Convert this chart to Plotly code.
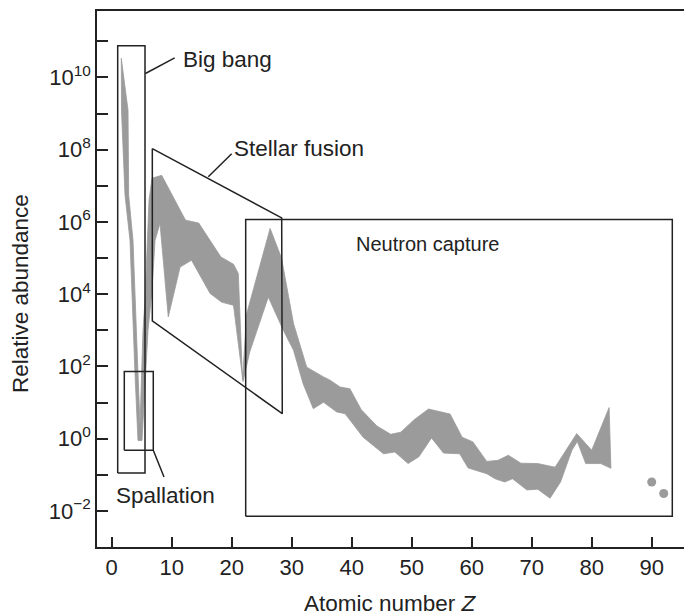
import plotly.graph_objects as go

# ---- data (Z, log10 abundance) ----
upper_z = [1.6, 2.72, 2.83, 3.55, 4.38, 4.72, 5.22, 5.55, 6.22, 6.72, 8.33, 12.3, 14.5, 18.2, 20.3, 21.1,
           21.8, 22.5, 26.4, 28.3, 30.3, 32.5, 35.3, 36.4, 38.05, 39.7, 41.6, 44.2, 46.5, 48.2, 50.3,
           52.8, 56.4, 58.4, 60.2, 62.5, 64.4, 66.1, 68.2, 71.0, 73.9, 77.5, 80.0, 82.9]
upper_exp = [10.53, 9.09, 6.74, 5.49, 1.82, 0.37, 3.0, 3.83, 6.6, 7.21, 7.29, 6.05, 5.97, 5.03, 4.83, 4.57,
             1.62, 3.46, 5.82, 5.0, 3.19, 1.98, 1.71, 1.62, 1.43, 1.38, 0.8, 0.35, 0.12, 0.18, 0.51,
             0.82, 0.68, 0.04, -0.09, -0.63, -0.6, -0.46, -0.68, -0.69, -0.79, 0.14, -0.32, 0.86]
lower_z = [1.6, 1.63, 2.22, 3.05, 3.88, 4.38, 5.05, 6.05, 6.72, 7.22, 8.05, 9.43, 11.4, 13.3, 16.4, 18.3,
           20.3, 21.9, 23.0, 26.1, 28.6, 30.3, 31.9, 33.6, 35.3, 37.5, 38.9, 41.9, 45.3, 47.2, 49.4,
           51.2, 53.3, 55.3, 58.0, 59.4, 62.5, 63.9, 65.5, 66.8, 69.2, 71.0, 73.05, 74.8, 76.7, 77.6,
           79.0, 81.5, 83.2]
lower_exp = [10.53, 9.09, 6.74, 5.49, 1.81, -0.05, -0.05, 3.0, 4.11, 5.49, 5.96, 3.37, 4.75, 4.94, 4.02, 3.78,
             3.69, 1.58, 2.4, 3.92, 3.0, 2.45, 1.52, 0.83, 1.01, 0.74, 0.69, 0.04, -0.42, -0.37, -0.69,
             -0.5, 0.02, -0.4, -0.42, -0.81, -0.97, -1.11, -1.2, -1.11, -1.42, -1.4, -1.65, -1.2, -0.32, -0.08,
             -0.69, -0.69, -0.82]
dot_z = [90, 92]
dot_exp = [-1.2, -1.52]

x_ticks = [0, 10, 20, 30, 40, 50, 60, 70, 80, 90]
y_tick_exps = list(range(-2, 12))
y_label_exps = [-2, 0, 2, 4, 6, 8, 10]

# region boxes (Z, log10 abundance)
bigbang_box = dict(z=[1.0, 5.55], e=[-0.95, 10.88])
spall_box = dict(z=[2.1, 6.93], e=[-0.32, 1.86])
neutron_box = dict(z=[22.33, 93.43], e=[-2.15, 6.07])
stellar_z = [6.77, 28.33, 28.43, 6.77, 6.77]
stellar_e = [8.03, 6.11, 0.69, 3.26, 8.03]

FONT = "Liberation Sans, Arial, Helvetica, sans-serif"
INK = "#222222"
GRAY = "#9b9b9b"
TXT = 22.5

fig = go.Figure()

# band
bz = upper_z + lower_z[::-1]
be = upper_exp + lower_exp[::-1]
fig.add_trace(go.Scatter(x=bz, y=[10 ** v for v in be], mode="lines", fill="toself",
                         fillcolor=GRAY, line=dict(color=GRAY, width=0.8),
                         hoverinfo="skip", showlegend=False))
fig.add_trace(go.Scatter(x=dot_z, y=[10 ** v for v in dot_exp], mode="markers",
                         marker=dict(color=GRAY, size=9), showlegend=False))


def box(z, e):
    xs = [z[0], z[1], z[1], z[0], z[0]]
    ys = [e[0], e[0], e[1], e[1], e[0]]
    fig.add_trace(go.Scatter(x=xs, y=[10 ** v for v in ys], mode="lines",
                             line=dict(color=INK, width=1.5), hoverinfo="skip", showlegend=False))


def seg(z, e):
    fig.add_trace(go.Scatter(x=z, y=[10 ** v for v in e], mode="lines",
                             line=dict(color=INK, width=1.5), hoverinfo="skip", showlegend=False))


box(**bigbang_box)
box(**spall_box)
box(**neutron_box)
seg(stellar_z, stellar_e)
# leader lines
seg([5.62, 10.5], [10.11, 10.54])
seg([16.1, 20.0], [7.25, 7.89])
seg([6.93, 8.72], [-0.32, -1.06])

labels = [
    ("Big bang", 11.5, 10.50, "left", TXT),
    ("Stellar fusion", 20.1, 8.02, "left", TXT),
    ("Spallation", 0.4, -1.57, "left", TXT),
    ("Neutron capture", 52.7, 5.38, "center", 20),
]
for txt, z, e, anc, sz in labels:
    fig.add_annotation(x=z, y=e, xref="x", yref="y", text=txt, showarrow=False,
                       xanchor=anc, yanchor="middle", font=dict(size=sz, color=INK, family=FONT))

fig.add_annotation(x=-0.131, y=0.472, xref="paper", yref="paper", text="Relative abundance",
                   textangle=-90, showarrow=False, xanchor="center", yanchor="middle",
                   font=dict(size=TXT, color=INK, family=FONT))
fig.add_annotation(x=0.5, y=-0.105, xref="paper", yref="paper", text="Atomic number <i>Z</i>",
                   showarrow=False, xanchor="center", yanchor="middle",
                   font=dict(size=TXT, color=INK, family=FONT))

ytext = [("10<sup>%s</sup>" % (str(k).replace("-", "\u2212")) if k in y_label_exps else "")
         for k in y_tick_exps]

fig.update_layout(
    width=684, height=607,
    margin=dict(l=89, r=8, t=3, b=68, autoexpand=False),
    paper_bgcolor="white", plot_bgcolor="white",
    font=dict(family=FONT, color=INK, size=22),
    showlegend=False,
    xaxis=dict(range=[-2.45, 95.38], tickvals=x_ticks, ticks="inside", ticklen=10, tickwidth=1.5,
               tickcolor=INK, showline=True, linecolor=INK, linewidth=1.5, mirror=True,
               showgrid=False, zeroline=False, tickfont=dict(size=22, color=INK, family=FONT)),
    yaxis=dict(type="log", range=[-3.0, 11.84], tickvals=[10 ** k for k in y_tick_exps],
               ticktext=ytext, ticks="inside", ticklen=11, tickwidth=1.5, tickcolor=INK,
               showline=True, linecolor=INK, linewidth=1.5, mirror=True, showgrid=False,
               zeroline=False, tickfont=dict(size=22, color=INK, family=FONT)),
)

fig.write_html("out.html")
